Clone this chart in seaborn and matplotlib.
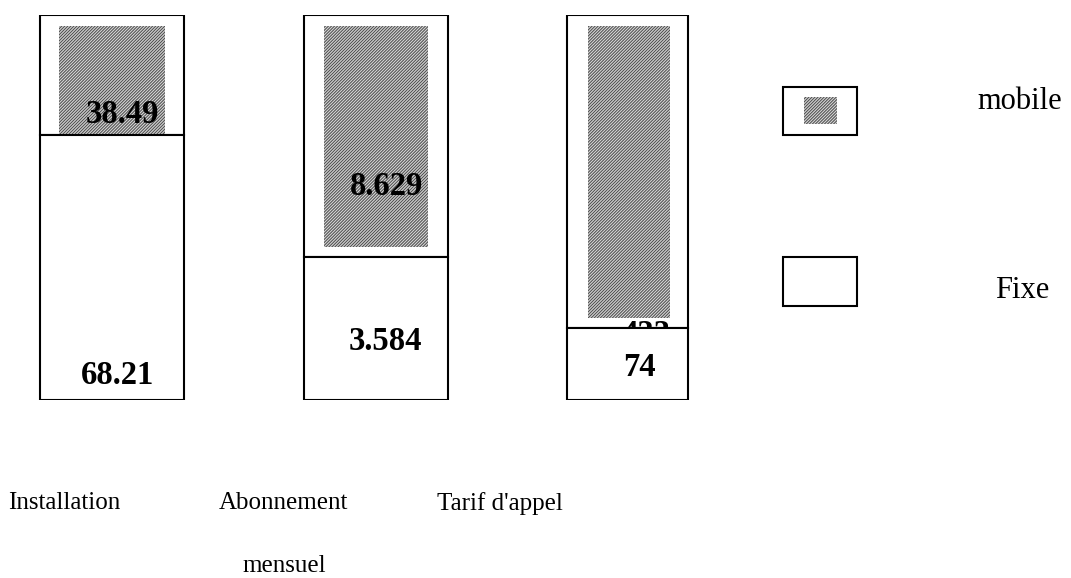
import matplotlib
matplotlib.use("Agg")
import matplotlib.pyplot as plt
import matplotlib.transforms as mtrans
from matplotlib.patches import Rectangle
from matplotlib.legend_handler import HandlerBase
import pandas as pd
import seaborn as sns

# données
categories = ["Installation", "Abonnement\nmensuel", "Tarif d'appel"]
fixe_pct = [68.8, 37.2, 18.7]          # hauteur du segment "Fixe" (%)
mobile_pct = [31.2, 62.8, 81.3]        # hauteur du segment "mobile" (%)
fixe_labels = ["68.21", "3.584", "74"]
mobile_labels = ["38.49", "8.629", "433"]

sns.set_theme(style="white")
plt.rcParams['font.family'] = ['Liberation Serif', 'DejaVu Serif']
plt.rcParams['text.color'] = 'black'
plt.rcParams['xtick.color'] = 'black'
plt.rcParams['hatch.linewidth'] = 0.7

TRAME = dict(color="#d4d4d4", edgecolor="#4a4a4a", linewidth=0, hatch="/" * 11)

df = pd.DataFrame({"cat": categories, "fixe": fixe_pct, "mobile": mobile_pct})

fig = plt.figure(figsize=(10.71, 5.78), dpi=100)
ax = fig.add_axes([0, 0.308, 1, 0.666])

bar_w = [0.56, 0.56, 0.47]
bar_dx = [0, 0.023, 0]
inner_w = [0.41, 0.405, 0.315]
inner_dx = [0, 0.023, 0.005]
inner_gap = [0, 2.6, 2.6]   # blanc entre la trame et la limite Fixe
inner_top = 2.9             # marge blanche en haut


def resize(patches, widths, dx):
    for p, w, d in zip(patches, widths, dx):
        c = p.get_x() + p.get_width() / 2 + d
        p.set_width(w)
        p.set_x(c - w / 2)


# segment mobile (cadre blanc)
n0 = len(ax.patches)
sns.barplot(data=df, x="cat", y="mobile", bottom=df["fixe"], color="white",
            edgecolor="black", linewidth=1.5, saturation=1, ax=ax, zorder=1)
resize(ax.patches[n0:], bar_w, bar_dx)

# trame grise à l'intérieur du segment mobile
n1 = len(ax.patches)
sns.barplot(x=df["cat"], y=df["mobile"] - inner_top - pd.Series(inner_gap),
            bottom=df["fixe"] + pd.Series(inner_gap), saturation=1,
            ax=ax, zorder=2, **TRAME)
resize(ax.patches[n1:], inner_w, inner_dx)

# valeurs mobile
mob_dy = [5.3, 18.2, -1.6]
mob_dx = [0.04, 0.066, 0.07]
for i, lab in enumerate(mobile_labels):
    ax.text(i + mob_dx[i], fixe_pct[i] + mob_dy[i], lab, ha="center", va="center",
            fontsize=23.5, fontweight="bold", zorder=3)

# segment fixe (par-dessus)
n2 = len(ax.patches)
sns.barplot(data=df, x="cat", y="fixe", color="white", edgecolor="black",
            linewidth=1.5, saturation=1, ax=ax, zorder=4)
resize(ax.patches[n2:], bar_w, bar_dx)

fix_dy = [6.3, 15.3, 8.4]
fix_dx = [0.023, 0.062, 0.045]
for i, lab in enumerate(fixe_labels):
    ax.text(i + fix_dx[i], fix_dy[i], lab, ha="center", va="center",
            fontsize=23.5, fontweight="bold", zorder=5)

ax.set_xlim(-0.435, 3.72)
ax.set_ylim(0, 100)
ax.set_xlabel("")
ax.set_ylabel("")
ax.set_yticks([])
ax.tick_params(axis="x", length=0, pad=66, labelsize=18)
ax.set_xticks(range(3), categories)
shifts = [-48, -86, -128]
for t, s in zip(ax.get_xticklabels(), shifts):
    t.set_linespacing(3.45)
    t.set_verticalalignment("top")
    t.set_transform(t.get_transform() + mtrans.ScaledTranslation(s / 100, 0, fig.dpi_scale_trans))
for s in ax.spines.values():
    s.set_visible(False)


# légende : cadre blanc, avec trame pour "mobile"
class BoxHandler(HandlerBase):
    def __init__(self, inner):
        super().__init__()
        self.inner = inner

    def create_artists(self, legend, orig, xd, yd, w, h, fs, trans):
        out = [Rectangle((-xd, -yd), w, h, facecolor="white", edgecolor="black",
                         linewidth=1.5, transform=trans)]
        if self.inner:
            out.append(Rectangle((-xd + w * 0.29, -yd + h * 0.23), w * 0.44, h * 0.56,
                                 facecolor=TRAME["color"], edgecolor=TRAME["edgecolor"],
                                 linewidth=0, hatch=TRAME["hatch"], transform=trans))
        return out


h_mob = Rectangle((0, 0), 1, 1)
h_fix = Rectangle((0, 0), 1, 1)
leg = ax.legend([h_mob, h_fix], ["mobile", "Fixe"],
                handler_map={h_mob: BoxHandler(True), h_fix: BoxHandler(False)},
                loc="upper left", bbox_to_anchor=(0.731, 0.813), frameon=False,
                fontsize=22, handlelength=2.42, handleheight=2.05,
                handletextpad=3.95, labelspacing=4.0, borderaxespad=0, borderpad=0)
lt = leg.get_texts()
lt[0].set_transform(lt[0].get_transform() + mtrans.ScaledTranslation(0, 0.12, fig.dpi_scale_trans))
lt[1].set_transform(lt[1].get_transform() + mtrans.ScaledTranslation(0.18, -0.07, fig.dpi_scale_trans))

fig.savefig("out.png", dpi=100)
